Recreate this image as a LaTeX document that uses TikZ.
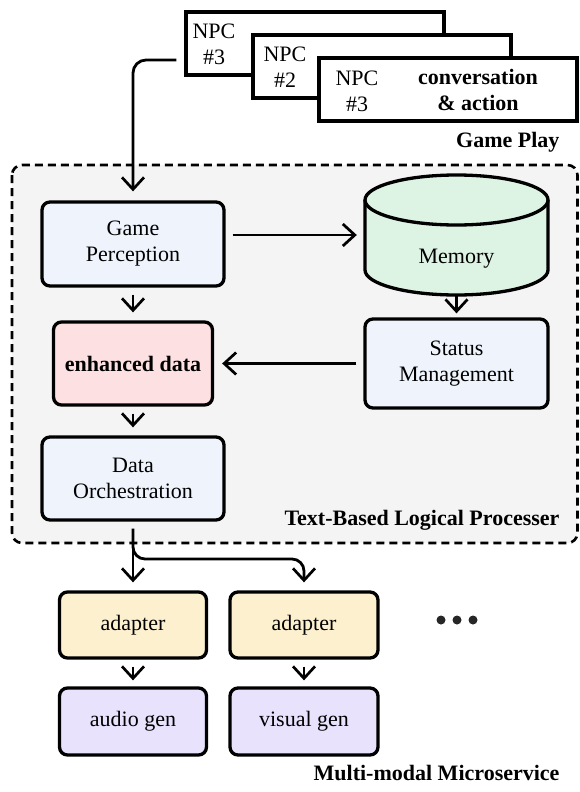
\documentclass[tikz,border=0pt]{standalone}
\usepackage{fontspec}
\setmainfont{Liberation Serif}
\usepackage{tikz}
\usetikzlibrary{arrows.meta}

\definecolor{perceptBlue}{HTML}{EEF3FC}
\definecolor{enhancedPink}{HTML}{FDE1E2}
\definecolor{memoryGreen}{HTML}{DDF3E3}
\definecolor{adapterYellow}{HTML}{FDF0CF}
\definecolor{genPurple}{HTML}{E9E2FD}
\definecolor{processorGray}{HTML}{F4F4F4}

\newcommand{\figsize}{\fontsize{22}{26}\selectfont}

\tikzset{
  box/.style={draw=black, line width=3.3pt, rounded corners=8pt, align=center, inner sep=0pt},
  npcbox/.style={draw=black, fill=white, line width=3.3pt, minimum width=258pt, minimum height=63pt, inner sep=0pt},
  flow/.style={-{Straight Barb[length=12pt,width=22pt,line width=2.7pt]}, line width=2.8pt, shorten <=7pt, shorten >=8pt},
  title/.style={font=\figsize\bfseries, anchor=east},
}

\begin{document}
\begin{tikzpicture}[x=1pt, y=-1pt, font=\figsize]

\useasboundingbox (0,0) rectangle (579,792);

% processor area
\filldraw[fill=processorGray, draw=black, line width=2.6pt, dash pattern=on 8pt off 5pt, rounded corners=10pt] (12,165) rectangle (577.5,543);

% game play cards
\node[npcbox] (npcA) at (315,43.5) {};
\node[npcbox] (npcB) at (382,66.5) {};
\node[npcbox] (npcC) at (448,89.5) {};
\node[align=center] (npcAText) at (214,44) {NPC\\\#3};
\node[align=center] (npcBText) at (285,67) {NPC\\\#2};
\node[align=center] (npcCText) at (357,91) {NPC\\\#3};
\node[align=center, font=\figsize\bfseries] (convAction) at (478,90) {conversation\\\& action};
\node[title] (gamePlay) at (563,142) {Game Play};

% memory cylinder
\fill[memoryGreen] (365,200) -- (365,270) arc[start angle=180, end angle=0, x radius=91.5, y radius=25] -- (548,200) arc[start angle=0, end angle=180, x radius=91.5, y radius=25] -- cycle;
\draw[line width=3.3pt] (365,200) -- (365,270) arc[start angle=180, end angle=0, x radius=91.5, y radius=25] -- (548,200);
\filldraw[fill=memoryGreen, line width=3.3pt] (456.5,200) ellipse[x radius=91.5, y radius=25];
\node[minimum width=183pt, minimum height=120pt, inner sep=0pt] (memory) at (456.5,235) {};
\node (memoryText) at (456.5,259) {Memory};

% processor boxes
\node[box, fill=perceptBlue, minimum width=182pt, minimum height=84pt] (gamePerception) at (133,244) {Game\\Perception};
\node[box, fill=enhancedPink, minimum width=159pt, minimum height=83pt, font=\figsize\bfseries] (enhancedData) at (133,363.5) {enhanced data};
\node[box, fill=perceptBlue, minimum width=182pt, minimum height=83pt] (dataOrch) at (133,478.5) {Data\\Orchestration};
\node[box, fill=perceptBlue, minimum width=183pt, minimum height=89pt] (statusMgmt) at (456.5,363.5) {Status\\Management};
\node[title] (processerTitle) at (563,520) {Text-Based Logical Processer};

% microservices
\node[box, fill=adapterYellow, minimum width=147pt, minimum height=66pt] (adapterA) at (133,625) {adapter};
\node[box, fill=adapterYellow, minimum width=148pt, minimum height=66pt] (adapterB) at (304,625) {adapter};
\node[box, fill=genPurple, minimum width=147pt, minimum height=67pt] (audioGen) at (133,721.5) {audio gen};
\node[box, fill=genPurple, minimum width=148pt, minimum height=67pt] (visualGen) at (304,721.5) {visual gen};
\foreach \dx in {-16,0,16}
  \fill[black!85] (457+\dx,620) circle (4.5);
\node[title] (microserviceTitle) at (563,773) {Multi-modal Microservice};

% connectors
\draw[flow, rounded corners=13pt, shorten <=8pt, shorten >=9pt] ([yshift=-16.5pt]npcA.west) -| (gamePerception.north);
\draw[flow] (gamePerception.east |- memory.west) -- (memory.west);
\draw[flow] (gamePerception) -- (enhancedData);
\draw[flow, shorten <=0pt, shorten >=4pt] (memory.south) -- (statusMgmt.north);
\draw[flow] (statusMgmt.west) -- (enhancedData.east);
\draw[flow] (enhancedData) -- (dataOrch);
\draw[flow] (dataOrch) -- (adapterA);
\coordinate (fork) at (304,559);
\draw[flow, rounded corners=12pt] (dataOrch.south) |- (fork) -- (adapterB.north);
\draw[flow, shorten >=6pt] (adapterA) -- (audioGen);
\draw[flow, shorten >=6pt] (adapterB) -- (visualGen);

\end{tikzpicture}
\end{document}
